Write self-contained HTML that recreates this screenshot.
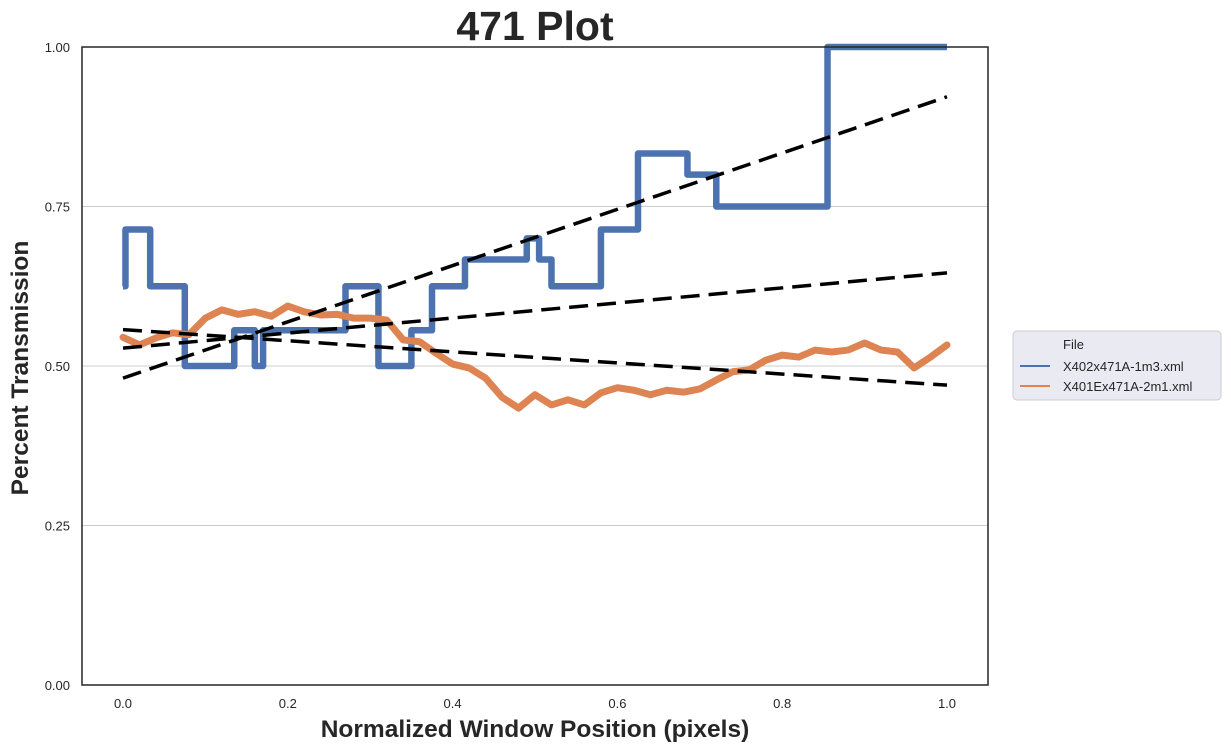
<!DOCTYPE html>
<html><head><meta charset="utf-8"><style>
body{margin:0;background:#fff;font-family:"Liberation Sans",Arial,sans-serif}
svg text{font-family:"Liberation Sans",Arial,sans-serif}
</style></head><body>
<svg id="c" width="1231" height="750" xmlns="http://www.w3.org/2000/svg">
<text x="535" y="40" text-anchor="middle" font-size="41" font-weight="bold" fill="#262626">471 Plot</text>
<g id="grid"></g>
<g id="plot"></g>
<rect x="82" y="47" width="906" height="638" fill="none" stroke="#262626" stroke-width="1.5"/>
<g id="ticks"></g>
<text x="535" y="737" text-anchor="middle" font-size="24.5" font-weight="bold" fill="#262626">Normalized Window Position (pixels)</text>
<text transform="translate(28,368) rotate(-90)" text-anchor="middle" font-size="24.5" font-weight="bold" fill="#262626">Percent Transmission</text>
<g>
<rect x="1013" y="331" width="208" height="69" rx="4" fill="#eaeaf2" stroke="#cccccc"/>
<text x="1063" y="349" font-size="13" fill="#262626">File</text>
<line x1="1020" y1="366" x2="1050" y2="366" stroke="#4c72b0" stroke-width="2"/>
<text x="1063" y="371" font-size="13" fill="#262626">X402x471A-1m3.xml</text>
<line x1="1020" y1="386" x2="1050" y2="386" stroke="#dd8452" stroke-width="2"/>
<text x="1063" y="391" font-size="13" fill="#262626">X401Ex471A-2m1.xml</text>
</g>
</svg>
<script>
const xTicks=[0,0.2,0.4,0.6,0.8,1.0];
const xTickLabels=["0.0","0.2","0.4","0.6","0.8","1.0"];
const yTicks=[0,0.25,0.5,0.75,1.0];
const yTickLabels=["0.00","0.25","0.50","0.75","1.00"];
const blueX=[0,0.003,0.033,0.075,0.135,0.16,0.165,0.17,0.27,0.31,0.35,0.375,0.415,0.49,0.505,0.51,0.52,0.58,0.625,0.685,0.72,0.855,1.0];
const blueY=[0.625,0.714,0.625,0.5,0.556,0.5,0.5,0.556,0.625,0.5,0.556,0.625,0.667,0.7,0.667,0.667,0.625,0.714,0.833,0.8,0.75,1.0,1.0];
const orangeY=[0.545,0.533,0.544,0.552,0.549,0.575,0.588,0.581,0.585,0.578,0.594,0.585,0.580,0.581,0.575,0.575,0.572,0.541,0.538,0.520,0.503,0.497,0.481,0.451,0.434,0.455,0.439,0.447,0.439,0.458,0.466,0.462,0.455,0.462,0.459,0.464,0.478,0.491,0.494,0.509,0.517,0.514,0.525,0.522,0.525,0.536,0.525,0.522,0.497,0.514,0.533];
const trendStart=[0.481,0.528,0.557];
const trendEnd=[0.922,0.646,0.470];
const X=v=>123+824*v, Y=v=>685-638*v;
const NS="http://www.w3.org/2000/svg";
function mk(t,a,p){const e=document.createElementNS(NS,t);for(const k in a)e.setAttribute(k,a[k]);p.appendChild(e);return e;}
const grid=document.getElementById('grid'),plot=document.getElementById('plot'),ticks=document.getElementById('ticks');
yTicks.forEach((v,i)=>{
 if(v>0&&v<1){const g=mk('line',{x1:82,x2:988,y1:Y(v),y2:Y(v),stroke:'#cccccc','stroke-width':1},grid);
 
 }
 const t=mk('text',{x:70,y:Y(v)+5,'text-anchor':'end','font-size':13,fill:'#262626'},ticks);t.textContent=yTickLabels[i];
 
 
});
xTicks.forEach((v,i)=>{
 const t=mk('text',{x:X(v),y:708,'text-anchor':'middle','font-size':13,fill:'#262626'},ticks);t.textContent=xTickLabels[i];
 
 
});
let d='';blueX.forEach((x,i)=>{if(i==0)d+='M'+X(x)+','+Y(blueY[i]);else{d+='L'+X(x)+','+Y(blueY[i-1])+'L'+X(x)+','+Y(blueY[i]);}});
const b=mk('path',{d:d,fill:'none',stroke:'#4c72b0','stroke-width':6.5,'stroke-linejoin':'round'},plot);


let d2='';orangeY.forEach((v,i)=>{d2+=(i?'L':'M')+X(i/(orangeY.length-1))+','+Y(v);});
const o=mk('path',{d:d2,fill:'none',stroke:'#dd8452','stroke-width':7,'stroke-linejoin':'round','stroke-linecap':'round'},plot);


trendStart.forEach((s,i)=>{
 const l=mk('line',{x1:X(0),y1:Y(s),x2:X(1),y2:Y(trendEnd[i]),stroke:'#000','stroke-width':3.5,'stroke-dasharray':'19 9'},plot);
 
 
});
</script>
</body></html>
